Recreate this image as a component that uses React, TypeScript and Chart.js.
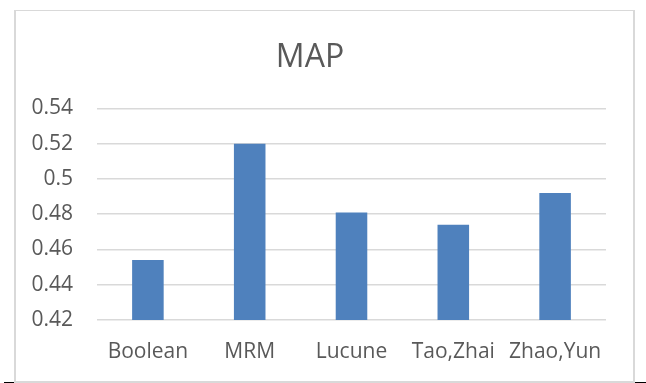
import React, { useEffect, useRef } from "react";
import { Chart, registerables } from "chart.js";

Chart.register(...registerables);

const categories = ["Boolean", "MRM", "Lucune", "Tao,Zhai", "Zhao,Yun"];
const mapValues = [0.454, 0.52, 0.481, 0.474, 0.492];
const yTicks = [0.42, 0.44, 0.46, 0.48, 0.5, 0.52, 0.54];
const titleText = "MAP";

const FONT = "'Open Sans', 'Noto Sans', sans-serif";

const framePlugin = {
  id: "frame",
  beforeDraw(chart: any) {
    const ctx = chart.ctx;
    ctx.save();
    ctx.fillStyle = "#ffffff";
    ctx.fillRect(0, 0, chart.width, chart.height);
    ctx.fillStyle = "#d9d9d9";
    ctx.fillRect(14, 10, 621, 1);
    ctx.fillRect(14, 10, 2, 373);
    ctx.fillRect(633, 10, 2, 373);
    ctx.fillRect(14, 381, 621, 2);
    ctx.fillStyle = "#000000";
    ctx.fillRect(4, 382, 10, 1);
    ctx.fillRect(635, 382, 11, 1);
    ctx.restore();
  },
};

export default function App() {
  const ref = useRef<HTMLCanvasElement | null>(null);
  useEffect(() => {
    if (!ref.current) return;
    const chart = new Chart(ref.current, {
      type: "bar",
      data: {
        labels: categories,
        datasets: [
          {
            label: titleText,
            data: mapValues,
            backgroundColor: "#4f81bd",
            borderWidth: 0,
            barPercentage: 0.31,
            categoryPercentage: 1,
          },
        ],
      },
      options: {
        responsive: false,
        animation: false,
        layout: { padding: { left: 14, right: 40, top: 10, bottom: 0 } },
        plugins: {
          legend: { display: false },
          tooltip: { enabled: false },
          title: {
            display: true,
            text: titleText,
            color: "#595959",
            font: { family: FONT, size: 32, weight: "normal" },
            padding: { top: 29, bottom: 31 },
          },
        },
        scales: {
          x: {
            grid: { display: false, drawTicks: false },
            border: { display: false },
            ticks: {
              color: "#595959",
              font: { family: FONT, size: 21 },
              padding: 19,
              maxRotation: 0,
              autoSkip: false,
            },
            afterFit(scale: any) {
              scale.height = 63;
            },
          },
          y: {
            min: 0.42,
            max: 0.54,
            grid: { color: "#d9d9d9", lineWidth: 1.5, drawTicks: false },
            border: { display: false },
            afterBuildTicks(scale: any) {
              scale.ticks = yTicks.map((v) => ({ value: v }));
            },
            ticks: {
              color: "#595959",
              font: { family: FONT, size: 21 },
              padding: 24,
              callback: (v: any) => String(Number(v)),
            },
            afterFit(scale: any) {
              scale.width = 83;
            },
          },
        },
      },
      plugins: [framePlugin],
    });
    return () => chart.destroy();
  }, []);
  return (
    <div style={{ position: "fixed", left: 0, top: 0, width: 646, height: 383 }}>
      <canvas ref={ref} width={646} height={383} style={{ display: "block" }} />
    </div>
  );
}
